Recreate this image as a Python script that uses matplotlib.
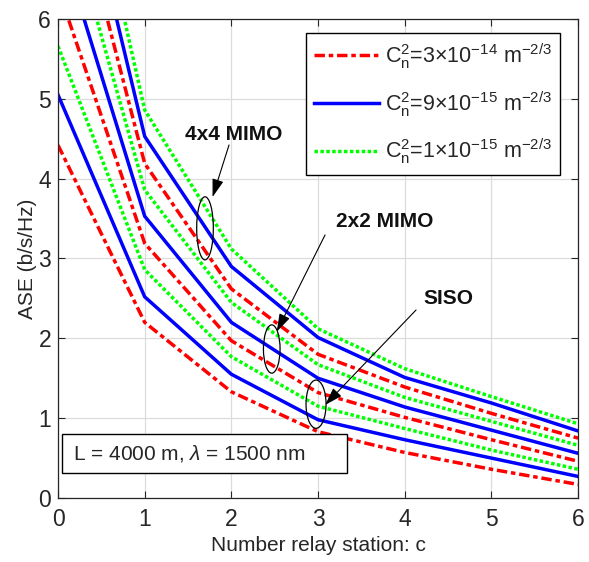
import matplotlib.pyplot as plt
from matplotlib.patches import Ellipse, Rectangle

plt.rcParams['font.family'] = ['Liberation Sans', 'DejaVu Sans']
plt.rcParams['mathtext.fontset'] = 'custom'
plt.rcParams['mathtext.rm'] = 'Liberation Sans'
plt.rcParams['mathtext.it'] = 'Liberation Sans:italic'
plt.rcParams['mathtext.bf'] = 'Liberation Sans:bold'

# number of relay stations
c = [0, 1, 2, 3, 4, 5, 6]

# ASE (b/s/Hz) for each turbulence strength
siso_3e14 = [4.42, 2.20, 1.33, 0.83, 0.57, 0.36, 0.17]
siso_9e15 = [5.05, 2.52, 1.55, 0.98, 0.73, 0.50, 0.27]
siso_1e15 = [5.66, 2.86, 1.77, 1.15, 0.87, 0.60, 0.36]
mimo2_3e14 = [6.38, 3.19, 1.97, 1.32, 1.01, 0.73, 0.46]
mimo2_9e15 = [7.06, 3.53, 2.20, 1.50, 1.14, 0.85, 0.56]
mimo2_1e15 = [7.72, 3.86, 2.45, 1.67, 1.26, 0.96, 0.66]
mimo4_3e14 = [8.38, 4.19, 2.62, 1.80, 1.39, 1.06, 0.75]
mimo4_9e15 = [9.06, 4.53, 2.90, 2.01, 1.51, 1.19, 0.84]
mimo4_1e15 = [9.72, 4.86, 3.12, 2.12, 1.62, 1.27, 0.93]

labels = [r'C$_\mathrm{n}^2$=3$\times$10$^{-14}$ m$^{-2/3}$',
          r'C$_\mathrm{n}^2$=9$\times$10$^{-15}$ m$^{-2/3}$',
          r'C$_\mathrm{n}^2$=1$\times$10$^{-15}$ m$^{-2/3}$']

ax_col = '#262626'
fig = plt.figure(figsize=(5.89, 5.62), dpi=100)
ax = fig.add_axes([0.0985, 0.1139, 0.8829, 0.8523])

lw = 2.5
red_kw = dict(color='#ff0000', lw=lw, dashes=(3.0, 1.1, 1.3, 1.1))
blue_kw = dict(color='#0000ff', lw=lw)
green_kw = dict(color='#00ff00', lw=lw, dashes=(1.0, 0.7))

for i, (r, b, g) in enumerate([(siso_3e14, siso_9e15, siso_1e15),
                               (mimo2_3e14, mimo2_9e15, mimo2_1e15),
                               (mimo4_3e14, mimo4_9e15, mimo4_1e15)]):
    ax.plot(c, r, label=labels[0] if i == 0 else None, **red_kw)
    ax.plot(c, b, label=labels[1] if i == 0 else None, **blue_kw)
    ax.plot(c, g, label=labels[2] if i == 0 else None, **green_kw)

ax.set_xlim(0, 6)
ax.set_ylim(0, 6)
ax.set_xticks(range(7))
ax.set_yticks(range(7))
ax.grid(True, color='#dcdcdc', lw=0.9)
ax.set_axisbelow(True)
ax.tick_params(direction='in', top=True, right=True, length=5, width=0.8,
               colors=ax_col, labelsize=16.5)
ax.tick_params(axis='x', pad=7)
ax.tick_params(axis='y', pad=5)
for s in ax.spines.values():
    s.set_color(ax_col)
    s.set_linewidth(0.9)

ax.set_xlabel('Number relay station: c', fontsize=15, color=ax_col, labelpad=4)
ax.set_ylabel('ASE (b/s/Hz)', fontsize=15, color=ax_col, labelpad=1)

leg = ax.legend(loc='upper right', bbox_to_anchor=(0.966, 0.971), fontsize=15.5,
                handlelength=3.0, handletextpad=0.3, labelspacing=0.85,
                borderpad=0.38, borderaxespad=0, fancybox=False, framealpha=1,
                edgecolor='black')
leg.get_frame().set_linewidth(1.0)
for t in leg.get_texts():
    t.set_color(ax_col)

# parameter box
ax.add_patch(Rectangle((0.046, 0.31), 3.29, 0.49, fill=True, facecolor='white',
                       edgecolor='black', lw=1.0, zorder=5))
ax.text(0.17, 0.555, r'L = 4000 m, $\lambda$ = 1500 nm', fontsize=15,
        color=ax_col, va='center', ha='left', zorder=6)

# ellipses marking each group of curves
for (xc, yc, w, h) in [(1.696, 3.378, 0.192, 0.79),
                       (2.466, 1.866, 0.192, 0.605),
                       (2.977, 1.175, 0.231, 0.605)]:
    ax.add_patch(Ellipse((xc, yc), w, h, fill=False, edgecolor='black',
                         lw=0.9, zorder=7))

arrow = dict(arrowstyle='-|>,head_length=1.1,head_width=0.35', color='black',
             lw=0.8, shrinkA=0, shrinkB=0)
ax.annotate('', xy=(1.783, 3.77), xytext=(1.973, 4.422), arrowprops=arrow, zorder=8)
ax.annotate('', xy=(2.523, 2.083), xytext=(3.081, 3.295), arrowprops=arrow, zorder=8)
ax.annotate('', xy=(3.081, 1.165), xytext=(4.131, 2.355), arrowprops=arrow, zorder=8)

ax.text(2.023, 4.547, '4x4 MIMO', fontsize=15, fontweight='bold',
        ha='center', va='center', color='#111111')
ax.text(3.773, 3.461, '2x2 MIMO', fontsize=15, fontweight='bold',
        ha='center', va='center', color='#111111')
ax.text(4.503, 2.493, 'SISO', fontsize=15, fontweight='bold',
        ha='center', va='center', color='#111111')

fig.savefig('out.png', dpi=100)
